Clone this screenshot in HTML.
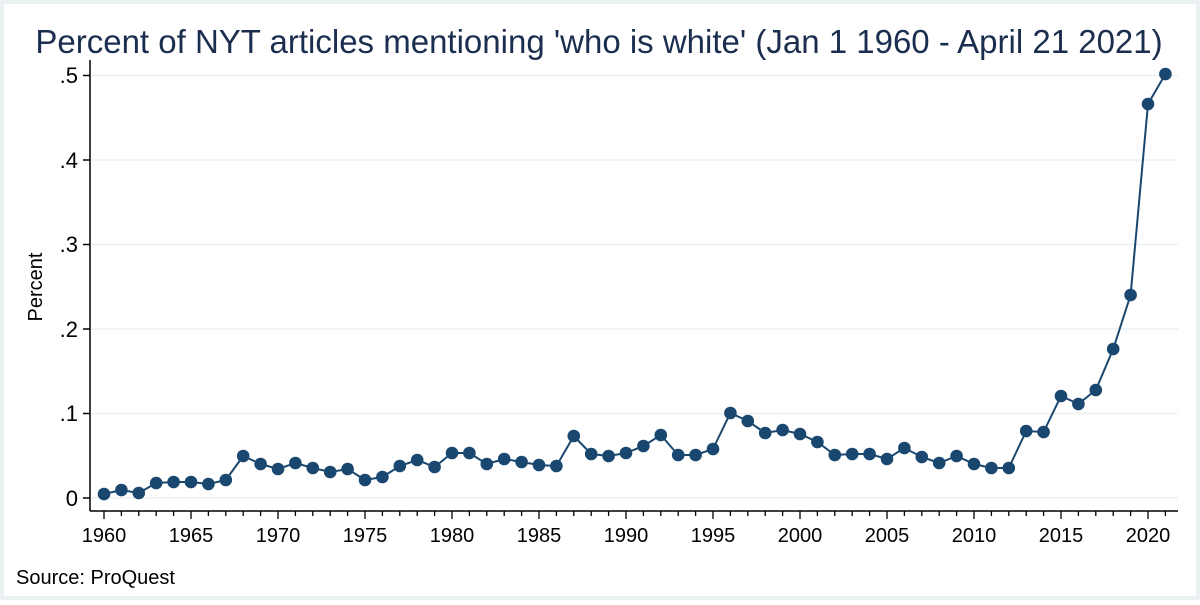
<!DOCTYPE html>
<html><head><style>
html,body{margin:0;padding:0;background:#fff;}
</style></head><body>
<svg width="1200" height="600" xmlns="http://www.w3.org/2000/svg" font-family="Liberation Sans, Arial, sans-serif">
<defs>
<marker id="m" viewBox="-7 -7 14 14" markerWidth="14" markerHeight="14" refX="0" refY="0" markerUnits="userSpaceOnUse"><circle cx="0" cy="0" r="6.3" fill="#1a476f"/></marker>
</defs>
<rect x="0" y="0" width="1200" height="600" fill="#eaf2f3"/>
<rect x="4" y="4" width="1192" height="592" fill="#fff"/>
<text x="599" y="53" text-anchor="middle" font-size="33" fill="#1c2e4f">Percent of NYT articles mentioning 'who is white' (Jan 1 1960 - April 21 2021)</text>
<g stroke="#eaf2f3" stroke-width="1.5">
<line x1="91" x2="1178" y1="498" y2="498"/>
<line x1="91" x2="1178" y1="413.5" y2="413.5"/>
<line x1="91" x2="1178" y1="329" y2="329"/>
<line x1="91" x2="1178" y1="244.5" y2="244.5"/>
<line x1="91" x2="1178" y1="160" y2="160"/>
<line x1="91" x2="1178" y1="75.5" y2="75.5"/>
</g>
<g stroke="#000" stroke-width="1.5">
<line x1="90" y1="60" x2="90" y2="511"/>
<line x1="90" y1="511" x2="1178" y2="511"/>
<line x1="83" x2="90" y1="498" y2="498"/>
<line x1="83" x2="90" y1="413.5" y2="413.5"/>
<line x1="83" x2="90" y1="329" y2="329"/>
<line x1="83" x2="90" y1="244.5" y2="244.5"/>
<line x1="83" x2="90" y1="160" y2="160"/>
<line x1="83" x2="90" y1="75.5" y2="75.5"/>
</g>
<g stroke="#000" stroke-width="1.3">
<path d="M104,511v8M191,511v8M278,511v8M365,511v8M452,511v8M539,511v8M626,511v8M713,511v8M800,511v8M887,511v8M974,511v8M1061,511v8M1148,511v8"/>
<path d="M121.4,511v5M138.8,511v5M156.2,511v5M173.6,511v5M208.4,511v5M225.8,511v5M243.2,511v5M260.6,511v5M295.4,511v5M312.8,511v5M330.2,511v5M347.6,511v5M382.4,511v5M399.8,511v5M417.2,511v5M434.6,511v5M469.4,511v5M486.8,511v5M504.2,511v5M521.6,511v5M556.4,511v5M573.8,511v5M591.2,511v5M608.6,511v5M643.4,511v5M660.8,511v5M678.2,511v5M695.6,511v5M730.4,511v5M747.8,511v5M765.2,511v5M782.6,511v5M817.4,511v5M834.8,511v5M852.2,511v5M869.6,511v5M904.4,511v5M921.8,511v5M939.2,511v5M956.6,511v5M991.4,511v5M1008.8,511v5M1026.2,511v5M1043.6,511v5M1078.4,511v5M1095.8,511v5M1113.2,511v5M1130.6,511v5M1165.4,511v5"/>
</g>
<g font-size="22" fill="#000" text-anchor="end">
<text x="78" y="506">0</text>
<text x="78" y="421">.1</text>
<text x="78" y="337">.2</text>
<text x="78" y="252">.3</text>
<text x="78" y="168">.4</text>
<text x="78" y="83">.5</text>
</g>
<g font-size="20" fill="#000" text-anchor="middle">
<text x="104" y="542">1960</text><text x="191" y="542">1965</text><text x="278" y="542">1970</text><text x="365" y="542">1975</text><text x="452" y="542">1980</text><text x="539" y="542">1985</text><text x="626" y="542">1990</text><text x="713" y="542">1995</text><text x="800" y="542">2000</text><text x="887" y="542">2005</text><text x="974" y="542">2010</text><text x="1061" y="542">2015</text><text x="1148" y="542">2020</text>
</g>
<text transform="translate(42,287) rotate(-90)" text-anchor="middle" font-size="20">Percent</text>
<text x="16" y="584" font-size="20">Source: ProQuest</text>
<polyline fill="none" stroke="#1a476f" stroke-width="2" marker-start="url(#m)" marker-mid="url(#m)" marker-end="url(#m)" points="104,494 121.4,490 138.8,493 156.2,483 173.6,482 191,482 208.4,484 225.8,480 243.2,456 260.6,464 278,469 295.4,463 312.8,468 330.2,472 347.6,469 365,480 382.4,477 399.8,466 417.2,460 434.6,467 452,453 469.4,453 486.8,464 504.2,459 521.6,462 539,465 556.4,466 573.8,436 591.2,454 608.6,456 626,453 643.4,446 660.8,435 678.2,455 695.6,455 713,449 730.4,413 747.8,421 765.2,433 782.6,430 800,434 817.4,442 834.8,455 852.2,454 869.6,454 887,459 904.4,448 921.8,457 939.2,463 956.6,456 974,464 991.4,468 1008.8,468 1026.2,431 1043.6,432 1061,396 1078.4,404 1095.8,390 1113.2,349 1130.6,295 1148,104 1165.4,74"/>
</svg>
</body></html>
